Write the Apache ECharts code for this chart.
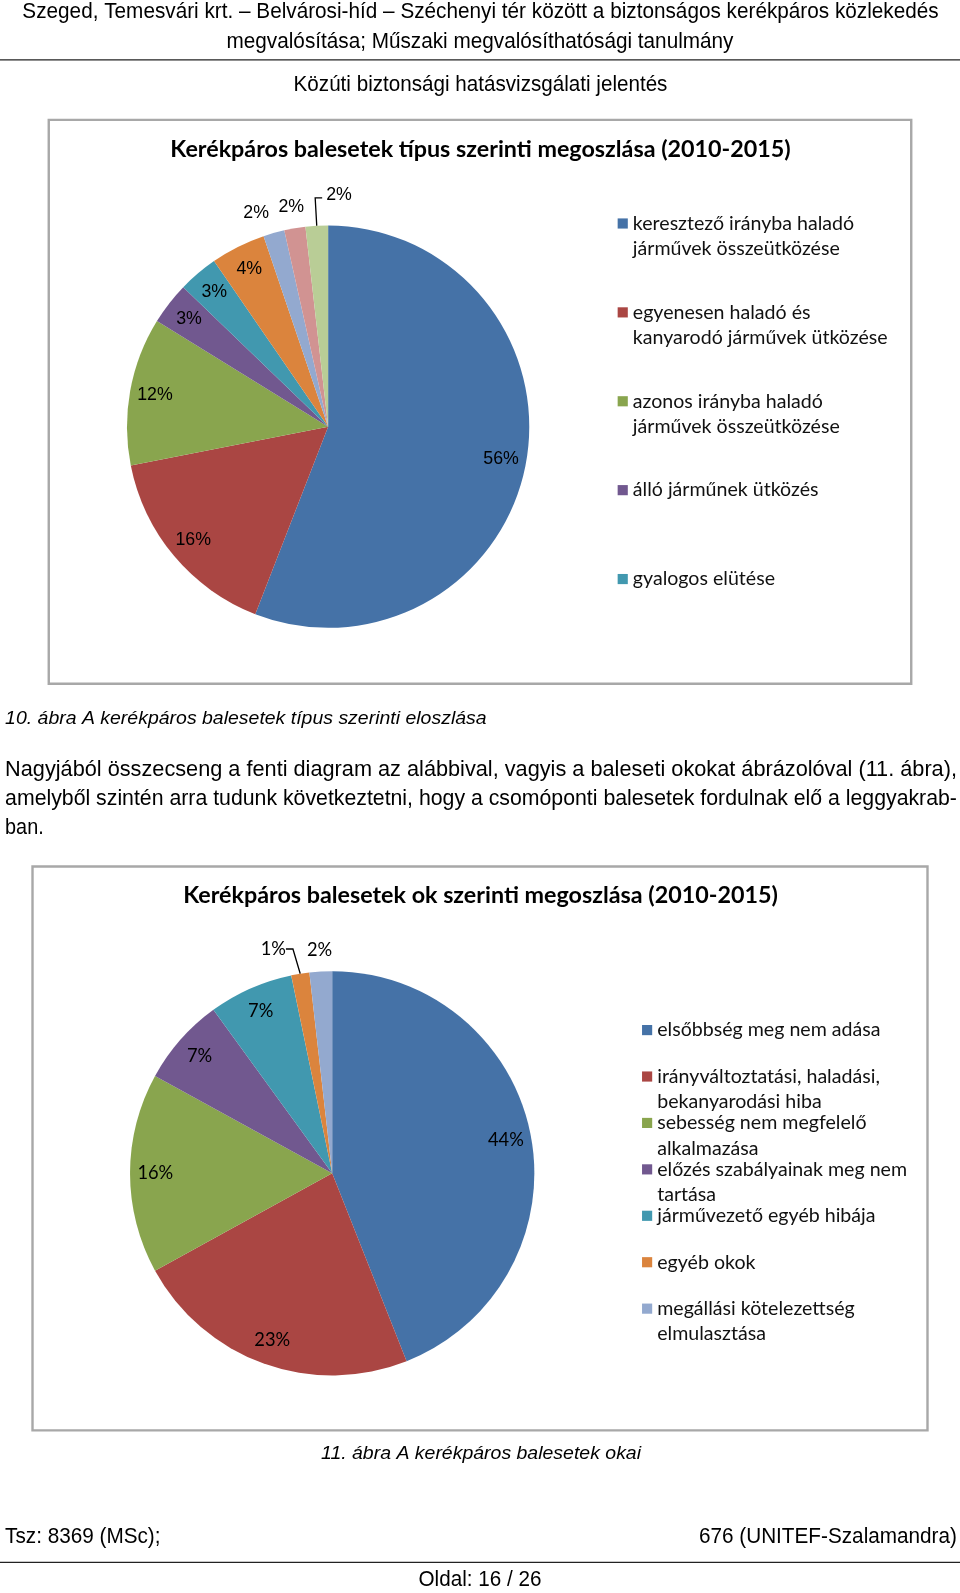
<!DOCTYPE html>
<html><head><meta charset="utf-8">
<script src="https://cdn.jsdelivr.net/npm/echarts@6/dist/echarts.min.js"></script>
<style>html,body{margin:0;padding:0;background:#fff}#c{width:960px;height:1593px}</style>
</head><body><div id="c"></div>
<script>
// ---------- DATA ----------
const typeTitle = 'Kerékpáros balesetek típus szerinti megoszlása (2010-2015)';
const typeNames = [
  'keresztező irányba haladó\njárművek összeütközése',
  'egyenesen haladó és\nkanyarodó járművek ütközése',
  'azonos irányba haladó\njárművek összeütközése',
  'álló járműnek ütközés',
  'gyalogos elütése',
  'további típus 1',
  'további típus 2',
  'további típus 3',
  'további típus 4'
];
const typeValues = [55.9, 16.0, 11.9, 3.4, 3.2, 4.4, 1.7, 1.7, 1.8];
const typeLegendCount = 5;

const causeTitle = 'Kerékpáros balesetek ok szerinti megoszlása (2010-2015)';
const causeNames = [
  'elsőbbség meg nem adása',
  'irányváltoztatási, haladási,\nbekanyarodási hiba',
  'sebesség nem megfelelő\nalkalmazása',
  'előzés szabályainak meg nem\ntartása',
  'járművezető egyéb hibája',
  'egyéb okok',
  'megállási kötelezettség\nelmulasztása'
];
const causeValues = [44, 23, 16, 7, 6.75, 1.45, 1.8];

const headerLines = [
  'Szeged, Temesvári krt. – Belvárosi-híd – Széchenyi tér között a biztonságos kerékpáros közlekedés',
  'megvalósítása; Műszaki megvalósíthatósági tanulmány',
  'Közúti biztonsági hatásvizsgálati jelentés'
];
const caption1 = '10. ábra A kerékpáros balesetek típus szerinti eloszlása';
const paragraph = [
  'Nagyjából összecseng a fenti diagram az alábbival, vagyis a baleseti okokat ábrázolóval (11. ábra),',
  'amelyből szintén arra tudunk következtetni, hogy a csomóponti balesetek fordulnak elő a leggyakrab-',
  'ban.'
];
const caption2 = '11. ábra A kerékpáros balesetek okai';
const footerLeft = 'Tsz: 8369 (MSc);';
const footerRight = '676 (UNITEF-Szalamandra)';
const pageText = 'Oldal: 16 / 26';

// ---------- STYLE / LAYOUT ----------
const K = 960 / 945;              // layout numbers below were measured on a 945-wide view
const S = v => v * K;
const palette = ['#4572A7', '#AA4643', '#89A54E', '#71588F', '#4198AF', '#DB843D', '#93A9CF', '#D19392', '#B9CD96'];
const typeLabelMode = ['in', 'in', 'in', 'in', 'in', 'in', 'out', 'out', 'line'];
const causeLabelMode = ['in', 'in', 'in', 'in', 'in', 'line', 'out'];

const ctx = document.createElement('canvas').getContext('2d');
function measure(text, font) { ctx.font = font; return ctx.measureText(text).width; }

const docFont = 'Liberation Sans, Arial, sans-serif';
function fitText(text, left, right, cy, size, italic) {
  const font = (italic ? 'italic ' : '') + S(size).toFixed(1) + 'px ' + docFont;
  const w = measure(text, font);
  return {
    type: 'text', x: S(left), y: S(cy), scaleX: S(right - left) / w, silent: true,
    style: { text: text, font: font, fill: '#000', verticalAlign: 'middle', align: 'left' }
  };
}

const legendFont = 'Lato, "Open Sans", sans-serif';
const legendSize = Math.round(18 * S(218) / measure('keresztező irányba haladó', '18px Lato') * 10) / 10;
const titleSize = Math.round(21 * S(610) / measure(typeTitle, 'bold 21px Lato') * 10) / 10;
const legendLine = S(25);

// every legend label becomes 3 lines with its first real line in the middle (aligned with the icon)
function legendFormatter(name) {
  return name.indexOf('\n') >= 0 ? ' \n' + name : ' \n' + name + '\n ';
}

function pieGroup(names, values, modes, cx, cy, r, labelFont, labelSize, mirror) {
  const fmt = p => Math.round(p.value) + '%';
  const lbl = (show, pos) => ({ show: show, position: pos, formatter: fmt, color: '#000',
    fontFamily: labelFont, fontSize: labelSize });
  const base = { type: 'pie', center: [cx, cy], startAngle: 90, clockwise: true,
    animation: false, avoidLabelOverlap: false, emphasis: { disabled: true } };
  const main = Object.assign({}, base, {
    radius: [0, r],
    itemStyle: { borderWidth: 0 },
    data: names.map((n, i) => ({ name: n, value: values[i],
      itemStyle: { color: palette[i] },
      label: lbl(modes[i] === 'line', 'outside'),
      labelLine: { show: modes[i] === 'line', length: mirror ? 28 : 21, length2: 7,
        lineStyle: { color: '#000', width: 1.3 } } })),
    labelLayout: function (p) {
      if (!p.labelLinePoints) return {};
      const pts = p.labelLinePoints;
      const p0 = pts[0], p1 = pts[1], p2 = pts[2];
      if (mirror) {
        const end = [p1[0] + (p1[0] - p2[0]), p1[1]];
        return { x: end[0] + 4, y: p1[1] - 3, align: 'left', verticalAlign: 'middle',
          labelLinePoints: [p0, p1, end], hideOverlap: false };
      }
      return { x: p2[0] - 4, y: p1[1] - 4, align: 'right', verticalAlign: 'middle', hideOverlap: false };
    }
  });
  const inner = Object.assign({}, base, {
    radius: [r * 0.72, r], silent: true,
    itemStyle: { color: 'rgba(0,0,0,0)' }, labelLine: { show: false },
    labelLayout: { hideOverlap: false },
    data: names.map((n, i) => ({ name: n, value: values[i], label: lbl(modes[i] === 'in', 'inside') }))
  });
  const outer = Object.assign({}, base, {
    radius: [r, r * 1.18], silent: true,
    itemStyle: { color: 'rgba(0,0,0,0)' }, labelLine: { show: false },
    labelLayout: function (p) {
      // spread two neighbouring outside labels apart
      const i = p.dataIndex;
      return { hideOverlap: false, dx: modes[i + 1] === 'out' ? -12 : 0 };
    },
    data: names.map((n, i) => ({ name: n, value: values[i], label: lbl(modes[i] === 'out', 'inside') }))
  });
  return [main, inner, outer];
}

const chart = echarts.init(document.getElementById('c'), null, { renderer: 'canvas' });

const boxStyle = { fill: '#fff', stroke: '#A8A8A8', lineWidth: 2.4 };
const graphics = [
  fitText(headerLines[0], 22, 924, 12, 22, false),
  fitText(headerLines[1], 223, 722, 41, 22, false),
  { type: 'line', shape: { x1: 0, y1: S(59), x2: S(945), y2: S(59) }, style: { stroke: '#222', lineWidth: 1.2 }, silent: true },
  fitText(headerLines[2], 289, 657, 84, 22, false),
  { type: 'rect', shape: { x: S(48), y: S(118), width: S(849), height: S(555) }, style: boxStyle, z: -10, silent: true },
  fitText(caption1, 5, 479, 708, 18, true),
  fitText(paragraph[0], 5, 942, 758, 22, false),
  fitText(paragraph[1], 5, 942, 786, 22, false),
  fitText(paragraph[2], 5, 43, 815, 22, false),
  { type: 'rect', shape: { x: S(32), y: S(853), width: S(881), height: S(555) }, style: boxStyle, z: -10, silent: true },
  fitText(caption2, 316, 631, 1431, 18, true),
  fitText(footerLeft, 5, 158, 1513, 22, false),
  fitText(footerRight, 688, 942, 1513, 22, false),
  { type: 'line', shape: { x1: 0, y1: S(1538), x2: S(945), y2: S(1538) }, style: { stroke: '#222', lineWidth: 1.2 }, silent: true },
  fitText(pageText, 412, 533, 1555, 22, false)
];

const legendText = { fontFamily: legendFont, fontSize: legendSize, lineHeight: legendLine, color: '#111' };
const titleText = { fontFamily: legendFont, fontWeight: 'bold', fontSize: titleSize, color: '#000' };
const option = {
  animation: false,
  backgroundColor: '#fff',
  title: [
    { text: typeTitle, left: S(473), top: S(150) - titleSize * 0.62, textAlign: 'center', padding: 0, textStyle: titleText },
    { text: causeTitle, left: S(473), top: S(884) - titleSize * 0.62, textAlign: 'center', padding: 0, textStyle: titleText }
  ],
  legend: [
    { orient: 'vertical', left: S(608), top: S(220) - 1.5 * legendLine, padding: 0,
      itemGap: S(87.5) - 3 * legendLine, icon: 'rect',
      itemWidth: S(10), itemHeight: S(10), selectedMode: false,
      data: typeNames.slice(0, typeLegendCount), formatter: legendFormatter,
      textStyle: legendText },
    { orient: 'vertical', left: S(632), top: S(1014) - 1.5 * legendLine, padding: 0,
      itemGap: S(45.7) - 3 * legendLine, icon: 'rect',
      itemWidth: S(10), itemHeight: S(10), selectedMode: false,
      data: causeNames, formatter: legendFormatter,
      textStyle: legendText }
  ],
  graphic: graphics,
  series: [].concat(
    pieGroup(typeNames, typeValues, typeLabelMode, S(323), S(420), S(198), docFont, S(17.5), true),
    pieGroup(causeNames, causeValues, causeLabelMode, S(327), S(1155), S(199), legendFont, S(18), false)
  )
};
chart.setOption(option);
</script>
</body></html>
